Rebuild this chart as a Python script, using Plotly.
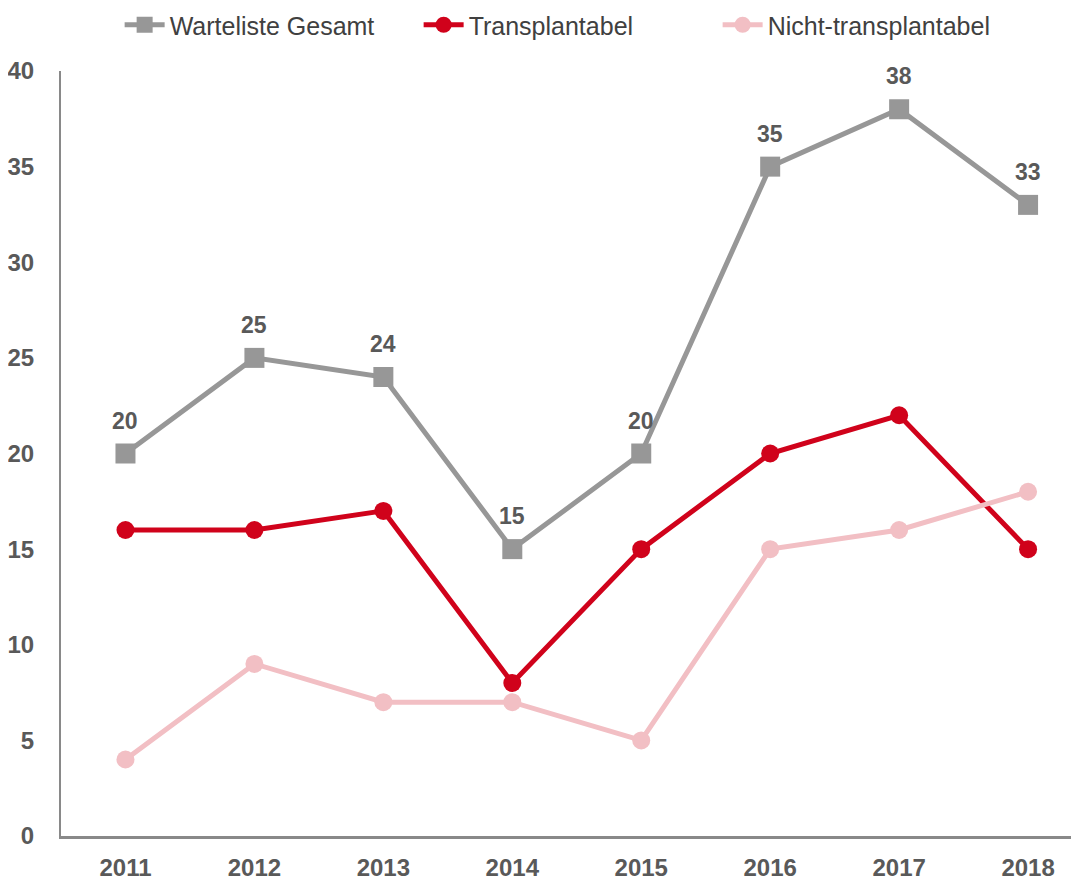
import plotly.graph_objects as go

years = ["2011", "2012", "2013", "2014", "2015", "2016", "2017", "2018"]
gesamt = [20, 25, 24, 15, 20, 35, 38, 33]
transplantabel = [16, 16, 17, 8, 15, 20, 22, 15]
nicht_transplantabel = [4, 9, 7, 7, 5, 15, 16, 18]

names = ["Warteliste Gesamt", "Transplantabel", "Nicht-transplantabel"]
colors = ["#979797", "#D0021B", "#F2BFC4"]
FONT = "Liberation Sans, Arial"

fig = go.Figure()
fig.add_trace(go.Scatter(
    x=years, y=gesamt, name=names[0], mode="lines+markers",
    line=dict(color=colors[0], width=5),
    marker=dict(symbol="square", size=20, color=colors[0]),
))
fig.add_trace(go.Scatter(
    x=years, y=transplantabel, name=names[1], mode="lines+markers",
    line=dict(color=colors[1], width=5),
    marker=dict(symbol="circle", size=18, color=colors[1]),
))
fig.add_trace(go.Scatter(
    x=years, y=nicht_transplantabel, name=names[2], mode="lines+markers",
    line=dict(color=colors[2], width=5),
    marker=dict(symbol="circle", size=18, color=colors[2]),
))

for i, v in enumerate(gesamt):
    fig.add_annotation(x=i, y=v, xref="x", yref="y", text=str(v), showarrow=False, yshift=33,
                       font=dict(family=FONT, size=23, color="#595959", weight="bold"))

fig.update_layout(
    width=1071, height=872,
    margin=dict(l=53, r=0, t=63, b=44),
    paper_bgcolor="white", plot_bgcolor="white",
    showlegend=True,
    legend=dict(orientation="h", xref="container", x=0.523, xanchor="center",
                yref="container", y=1 - 17 / 872, yanchor="middle",
                font=dict(family=FONT, size=25, color="#404040"),
                itemwidth=40, tracegroupgap=0,
                entrywidth=244, entrywidthmode="pixels"),
    xaxis=dict(
        type="category", range=[-0.5, 7.395],
        showline=True, linecolor="#898989", linewidth=2.5,
        showgrid=False, zeroline=False,
        ticks="outside", ticklen=8, tickcolor="rgba(0,0,0,0)",
        tickfont=dict(family=FONT, size=24, color="#595959", weight="bold"),
    ),
    yaxis=dict(
        range=[0, 40], dtick=5,
        showline=True, linecolor="#898989", linewidth=2,
        showgrid=False, zeroline=False,
        ticks="outside", ticklen=20, tickcolor="rgba(0,0,0,0)",
        tickfont=dict(family=FONT, size=24, color="#595959", weight="bold"),
    ),
)

fig.write_html("out.html")
